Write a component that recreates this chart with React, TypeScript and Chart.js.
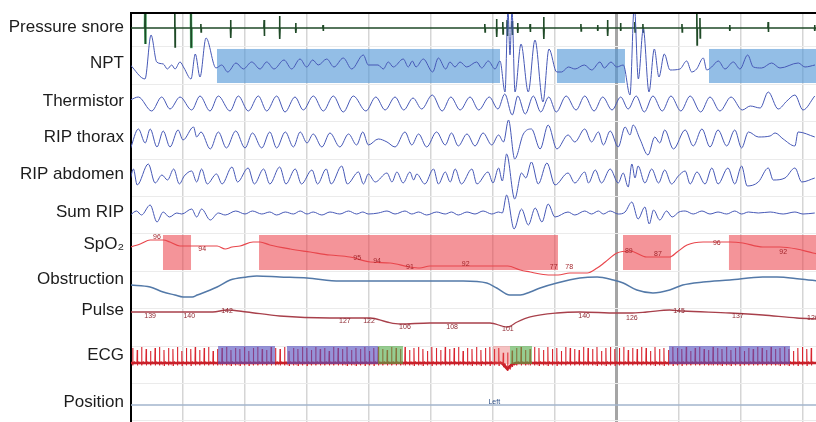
import React, { useEffect, useRef } from "react";
import { Chart, registerables } from "chart.js";

Chart.register(...registerables);

// ---------- time axis (seconds) ----------
const timeMin = 1.61;
const timeMax = 112.1;
const gridTimes = [10, 20, 30, 40, 50, 60, 70, 80, 90, 100, 110];
const markerTime = 80;

// ---------- lanes ----------
const laneLabels = ["Pressure snore", "NPT", "Thermistor", "RIP thorax", "RIP abdomen", "Sum RIP", "SpO\u2082", "Obstruction", "Pulse", "ECG", "Position"];
const laneLabelPos = [0.465, 0.428, 0.444, 0.406, 0.396, 0.412, 0.267, 0.203, 0.032, 0.235, 0.492];
const laneViewTop = 0.091;
const laneViewBottom = 11.027;
const auPerLane = 37.4;

const baseSnore = 0.492, baseNpt = 1.481, baseTherm = 2.471, baseThorax = 3.406, baseAbdomen = 4.449,
  baseSum = 5.439, baseSpo2 = 6.455, baseObstr = 7.471, basePulse = 8.246, baseEcg = 9.449, basePosition = 10.492;

// ---------- Pressure snore spikes ----------
const snoreTimes = [3.9, 8.7, 11.3, 12.9, 17.7, 23.1, 25.6, 28.2, 32.6, 58.7, 60.6, 61.6, 62.3, 63.1, 64.0, 66.0, 68.2, 74.2, 76.9, 78.5, 80.6, 82.9, 84.2, 90.5, 92.9, 93.4, 98.2, 104.4, 111.9];
const snoreUp = [14, 14, 16, 4, 8, 8, 12, 5, 3, 4, 9, 6, 8, 7, 5, 4, 11, 4, 3, 8, 5, 6, 4, 4, 14, 10, 3, 6, 3];
const snoreDown = [16, 19, 19, 4, 10, 8, 11, 5, 3, 4, 9, 6, 8, 7, 5, 4, 11, 3, 3, 8, 3, 4, 4, 4, 17, 10, 3, 4, 3];
const snoreHiTimes = [3.9, 11.3];
const snoreHiUp = [14, 16];
const snoreHiDown = [16, 19];

// ---------- NPT ----------
const nptTimes = [1.5, 3.87, 4.84, 5.76, 6.82, 7.47, 8.18, 8.71, 9.52, 10.16,
  11.29, 11.98, 12.74, 13.71, 15.32, 16.24, 17.21, 18.55, 19.73, 21.08,
  22.42, 23.5, 24.68, 26.29, 27.53, 28.87, 29.95, 30.92, 31.82, 33.18,
  34.35, 35.85, 37.21, 39.08, 39.89, 41.45, 42.31, 43.11, 43.92, 45.53,
  46.34, 46.98, 47.58, 48.76, 50.27, 51.18, 52.37, 53.06, 53.87, 54.68,
  55.76, 57.37, 58.18, 59.24, 60.32, 61.13, 61.94, 62.42, 62.74, 63.06,
  63.55, 64.52, 65.69, 66.77, 68.06, 69.03, 70.27, 71.08, 72.15, 73.23,
  74.73, 75.92, 77.26, 77.95, 79.03, 79.95, 81.02, 82.1, 82.79, 83.44,
  84.24, 85.16, 86.02, 86.77, 87.63, 88.55, 90.16, 91.24, 92.05, 92.85,
  93.92, 94.47, 95.27, 96.34, 97.42, 98.76, 99.84, 101.08, 101.98, 103.34,
  104.95, 106.29, 109.24, 110.32, 111.94];
const nptValues = [0, -14, 30, 3, 1, -4, 0, -4, 3, -3,
  -14, 11, -12, 27, -3, 0, -7, 2, -4, 3,
  -4, 3, -4, 5, -4, 6, -2, 5, 0, 6,
  -2, 7, -4, 10, 0, 0, -4, 3, -2, 6,
  -2, 4, -2, 6, -7, 7, -4, 3, -2, 3,
  -2, 3, -3, 4, -4, 4, -27, 55, 10, 55,
  -27, 21, -27, 25, -37, 16, -7, -7, -2, -4,
  0, -5, 3, -3, 3, -2, 0, -30, 60, -14,
  36, -27, 16, -12, 11, -5, -4, 4, -7, -4,
  7, -5, -2, 4, -4, 3, -4, 10, -2, -3,
  2, -3, 2, -2, 0];
const nptEventStarts = [15.48, 70.32, 94.84];
const nptEventEnds = [61.13, 81.29, 113];

// ---------- Thermistor ----------
const thermSamples: [number, number][] = [[1.5, 2], [2.79, 5], [4.95, -9], [6.56, 5], [7.9, -7], [9.52, 5], [11.4, -8], [12.74, 6], [14.35, -9], [15.69, 6], [17.58, -9], [18.92, 6], [20.53, -9], [22.15, 6], [23.5, -9], [25.11, 6], [26.45, -10], [28.06, 5], [29.4, -8], [31.02, 6], [32.63, -9], [34.24, 6], [35.85, -10], [37.47, 6], [39.5, -9], [41.1, 5], [42.6, -8], [44.2, 5], [45.6, -8], [47.1, 4], [48.5, -7], [50.2, 7], [51.8, -9], [53.2, 5], [54.7, -8], [56.3, 5], [57.7, -8], [59.4, 5], [60.8, -7], [61.9, 8], [63.1, -13], [64.0, 6], [65.2, -12], [66.5, 6], [67.7, -10], [69.0, 5], [70.2, -10], [71.8, 6], [73.4, -8], [74.8, 6], [76.3, -9], [77.7, 5], [79.2, -8], [80.6, 5], [81.8, -7], [83.1, 6], [84.4, -10], [85.8, 6], [87.3, -9], [88.7, 6], [90.3, -9], [91.8, 6], [93.5, -10], [95.0, 5], [96.6, -9], [98.4, 5], [100.2, -8], [101.5, -4], [103.1, -6], [104.4, 10], [106.0, -7], [107.4, 1], [108.7, 7], [110.0, -8], [111.9, 6]];

// ---------- RIP thorax ----------
const thoraxSamples: [number, number][] = [[1.5, -12], [2.8, 8], [3.9, -6], [4.7, 8], [5.8, -10], [6.8, 6], [7.9, -10], [9.2, 7], [10.0, -3], [11.7, 10], [12.2, 0], [12.9, 5], [14.4, -12], [15.7, 5], [17.0, -11], [18.5, 6], [20.0, -11], [21.2, 4], [22.7, -11], [24.0, 5], [25.1, -11], [26.5, 5], [27.8, -10], [28.9, 5], [30.0, -6], [31.0, 3], [32.4, -10], [33.7, 4], [35.3, -10], [36.7, 3], [38.0, -8], [39.0, 5], [39.9, -8], [41.5, -2], [42.9, -5], [44.2, -10], [45.8, 5], [46.9, -8], [48.0, 3], [49.3, -10], [50.9, 5], [52.3, -8], [53.3, 4], [54.4, -9], [55.8, 3], [57.1, -9], [58.4, 4], [59.8, -8], [60.9, 2], [61.7, -5], [62.5, 17], [63.5, -22], [64.9, 3], [66.2, 8], [67.6, -12], [68.9, 12], [70.3, -12], [72.1, 2], [73.2, -5], [74.8, 8], [75.9, -5], [77.0, 5], [77.8, -8], [78.9, 6], [80.2, -10], [81.3, 10], [82.1, 2], [82.6, 12], [83.7, -2], [85.0, -18], [86.1, 0], [86.9, -6], [87.7, 7], [89.1, -12], [91.0, 7], [92.3, -9], [93.7, 8], [95.0, -10], [96.3, 7], [97.7, -9], [99.0, 7], [100.1, -11], [101.2, 5], [102.8, 0], [104.7, 1], [105.5, 4], [106.8, -2], [108.7, -9], [109.2, 5], [111.9, 0]];

// ---------- RIP abdomen ----------
const abdomenSamples: [number, number][] = [[1.5, -3], [2.0, 7], [2.6, -9], [4.4, 12], [5.5, -7], [6.6, 1], [7.5, -4], [8.5, 7], [9.4, -8], [10.2, 0], [11.4, 5], [12.2, -6], [13.0, 7], [13.9, -8], [15.4, 2], [16.3, -8], [17.9, 9], [18.8, -6], [20.5, 8], [21.5, -8], [23.0, 7], [24.0, -8], [25.6, 9], [26.6, -8], [28.1, 7], [29.1, -8], [30.8, 6], [31.7, -8], [33.1, 7], [33.9, -8], [35.6, 10], [36.5, -8], [38.3, 4], [39.1, -8], [39.9, 2], [41.0, -6], [42.9, 3], [43.7, -6], [44.5, 4], [45.5, -7], [46.6, 4], [47.2, -4], [47.7, 2], [49.0, -8], [50.4, 7], [51.2, -8], [52.3, 4], [53.1, -6], [53.9, 7], [54.9, -8], [56.6, 7], [57.4, -8], [59.2, 4], [60.0, -7], [60.9, 8], [61.5, -5], [62.2, 22], [63.5, -23], [64.6, 3], [65.3, -2], [66.2, 14], [67.3, -8], [68.7, 13], [70.0, -9], [72.1, 3], [73.2, -7], [74.8, 4], [75.4, -7], [76.5, 6], [77.5, -7], [78.9, 7], [80.2, -7], [81.0, 3], [81.8, -11], [82.4, 12], [82.9, -2], [83.4, 10], [84.5, -7], [85.6, 7], [86.7, -7], [87.7, 6], [88.8, -8], [89.9, 0], [91.0, 5], [91.8, -8], [92.9, 4], [94.2, -8], [95.3, 8], [96.3, -8], [97.9, 8], [99.0, -8], [100.1, 10], [101.0, -10], [102.8, -6], [104.4, 8], [105.2, -4], [107.1, -2], [108.7, 8], [109.8, -6], [111.9, -2]];

// ---------- Sum RIP ----------
const sumSamples: [number, number][] = [[1.5, -2], [2.5, 2], [3.3, -2], [4.7, 8], [5.8, -9], [6.8, 1], [7.8, -4], [9.0, 0], [9.8, -1], [11.4, 4], [12.2, -4], [13.0, 4], [14.4, -7], [15.7, 0], [16.8, -2], [18.5, 2], [20.0, -1], [21.2, 2], [22.7, -1], [24.0, 1], [25.1, -2], [26.5, 1], [27.8, -1], [28.9, 2], [30.0, -1], [31.0, 1], [32.4, -2], [33.7, 1], [35.3, -1], [36.7, 2], [38.0, -1], [39.0, 1], [39.9, -1], [41.5, 0], [42.9, 2], [44.2, -1], [45.8, 2], [46.9, -1], [48.0, 1], [49.3, -2], [50.9, 1], [52.3, -1], [53.3, 1], [54.4, -2], [55.8, 1], [57.1, -1], [58.4, 2], [59.8, -1], [60.9, 1], [61.5, 0], [62.2, 18], [63.4, -16], [64.6, 4], [65.7, -12], [66.8, 5], [67.9, -9], [68.9, 9], [70.0, -4], [72.1, 1], [73.2, -2], [74.8, 2], [75.9, -1], [77.0, 2], [77.8, -1], [78.9, 2], [80.2, -1], [81.3, 1], [82.4, 11], [83.4, -6], [84.5, 6], [85.2, -11], [85.9, 3], [86.9, -7], [88.0, 2], [88.9, -4], [90.0, 1], [91.0, 2], [92.3, -1], [93.7, 2], [95.0, -1], [96.3, 1], [97.7, -1], [99.0, 2], [100.1, -1], [101.2, 1], [102.8, 0], [104.7, 1], [106.8, -1], [108.7, 1], [110.0, -1], [111.9, 0]];

// ---------- SpO2 ----------
const spo2Samples: [number, number][] = [[1.5, 4], [3.1, 7], [4.7, 11], [6.8, 11], [7.9, 9], [9.5, 5], [12.7, 5], [15.5, 5], [16.8, 2], [17.9, 4], [19.2, 5], [21.3, 9], [22.4, 9], [24.0, 6], [27.3, 2], [30.5, -1], [33.7, -4], [36.9, -6], [40.2, -11], [43.4, -12], [46.6, -16], [48.2, -17], [49.8, -15], [54.7, -15], [61.1, -15], [62.4, -15], [64.4, -19], [66.0, -21], [67.6, -23], [69.2, -24], [70.5, -24], [72.4, -22], [75.2, -22], [76.8, -17], [78.1, -11], [80.0, -2], [82.1, 0], [84.8, -6], [88.5, -6], [89.7, -1], [91.3, 6], [93.9, 9], [98.2, 9], [100.3, 8], [103.5, 4], [106.3, 4], [109.0, 2], [111.6, -2], [112.5, -3]];
const desatStarts = [6.77, 22.26, 80.97, 98.06];
const desatEnds = [11.29, 70.48, 88.71, 113];
const spo2LabelTimes = [5.8, 13.1, 38.1, 41.3, 46.6, 55.6, 69.8, 72.3, 81.9, 86.6, 96.1, 106.8];
const spo2LabelTexts = ["96", "94", "95", "94", "91", "92", "77", "78", "89", "87", "96", "92"];
const spo2LabelLevels = [14, 2, -7, -10, -16, -13, -16, -16, 0, -3, 8, -1];

// ---------- Obstruction ----------
const obstrSamples: [number, number][] = [[1.5, 4], [4.7, 2], [6.8, -3], [8.7, -6], [10.0, -8], [11.5, -8], [12.3, -6], [14.4, -1], [15.5, 2], [17.6, 9], [20.3, 12], [21.9, 13], [25.6, 12], [30.0, 11], [35.3, 8], [40.2, 8], [49.8, 8], [55.2, 8], [59.0, 6], [60.6, 1], [62.7, -6], [64.4, -6], [66.0, -3], [67.6, 1], [70.3, 6], [74.0, 11], [76.8, 12], [79.4, 9], [81.0, 6], [83.2, -1], [85.8, -4], [88.5, -1], [90.6, 4], [93.9, 7], [98.2, 9], [103.5, 12], [105.8, 12], [109.5, 10], [112.5, 8]];

// ---------- Pulse ----------
const pulseSamples: [number, number][] = [[1.5, 6], [14.8, 6], [17.1, 8], [20.3, 6], [25.6, 2], [33.7, 0], [40.2, 0], [42.9, -4], [45.0, -6], [49.8, -5], [59.5, -5], [62.3, -9], [63.9, -4], [66.0, 1], [70.3, 5], [74.0, 6], [80.0, 5], [82.1, 5], [84.8, 6], [88.5, 8], [90.6, 7], [98.2, 5], [103.5, 3], [109.0, 0], [112.5, -1]];
const pulseLabelTimes = [4.7, 11.0, 17.1, 36.1, 40.0, 45.8, 53.4, 62.4, 74.7, 82.4, 90.0, 99.5, 111.6];
const pulseLabelTexts = ["139", "140", "142", "127", "122", "106", "108", "101", "140", "126", "145", "137", "126"];
const pulseLabelLevels = [2, 2, 7, -3, -3, -9, -9, -11, 2, 0, 7, 2, 0];

// ---------- ECG ----------
const ecgFirstBeat = 1.9;
const ecgRR = 0.72;
const ecgAmps = [15, 13, 16, 14, 12, 15, 16, 13, 15, 14,
  16, 12, 15, 14, 16, 13, 15, 16, 12, 14,
  15, 16, 13, 15, 14, 16, 12, 15, 16, 14,
  13, 16, 15, 14, 16, 12, 15, 14, 16, 15,
  13, 16, 14, 15, 12, 16, 15, 14, 16, 13,
  15, 14, 16, 12, 15, 16, 14, 13, 16, 15,
  14, 16, 13, 15, 16, 14, 12, 16, 15, 13,
  16, 14, 15, 16, 12, 15, 14, 16, 13, 15,
  16, 14, 15, 12, 16, 14, 15, 16, 13, 14,
  16, 15, 13, 16, 14, 15, 12, 16, 15, 14,
  13, 16, 15, 14, 16, 12, 15, 16, 14, 15,
  16, 13, 15, 14, 16, 15, 12, 16, 14, 15,
  13, 16, 15, 14, 16, 12, 15, 16, 14, 13,
  16, 15, 14, 16, 13, 15, 16, 12, 15, 14,
  16, 15, 13, 16, 14, 15, 16, 14, 12, 15,
  16, 14, 15];
const ecgDriftTimes = [timeMin - 1, 61.4, 62.3, 62.9, 63.6, timeMax + 1];
const ecgDriftValues = [0, 0, -6, -2, 0, 0];
const ecgEventStarts = [15.65, 26.77, 41.45, 60.0, 62.74, 88.39];
const ecgEventEnds = [24.84, 41.45, 45.48, 62.74, 66.29, 107.9];
const ecgEventKinds = ["purple", "purple", "green", "red", "green", "purple"];

// ---------- Position ----------
const positionLevel = -3;
const positionLabelTime = 60.2;
const positionLabelText = "Left";

// ================= helpers =================
const toPts = (samples: [number, number][], base: number) => samples.map(([t, v]) => ({ x: t, y: base - v / auPerLane }));
const pairs = (ts: number[], vs: number[]) => ts.map((t, i) => [t, vs[i]] as [number, number]);

function spikePts(times: number[], up: number[], down: number[], base: number, withEnds: boolean) {
  const pts: { x: number; y: number }[] = [];
  if (withEnds) pts.push({ x: timeMin - 1, y: base });
  times.forEach((t, i) => {
    if (!withEnds) pts.push({ x: NaN, y: NaN });
    pts.push({ x: t - 0.06, y: base });
    pts.push({ x: t - 0.02, y: base - up[i] / auPerLane });
    pts.push({ x: t + 0.02, y: base + down[i] / auPerLane });
    pts.push({ x: t + 0.06, y: base });
  });
  if (withEnds) pts.push({ x: timeMax + 1, y: base });
  return pts;
}

function driftAt(t: number) {
  for (let i = 1; i < ecgDriftTimes.length; i++) {
    if (t <= ecgDriftTimes[i]) {
      const t0 = ecgDriftTimes[i - 1], t1 = ecgDriftTimes[i];
      const f = (t - t0) / (t1 - t0);
      return ecgDriftValues[i - 1] + f * (ecgDriftValues[i] - ecgDriftValues[i - 1]);
    }
  }
  return 0;
}

function ecgPts() {
  const pts: { x: number; y: number }[] = [{ x: timeMin - 1, y: baseEcg }];
  ecgAmps.forEach((a, i) => {
    const t = ecgFirstBeat + i * ecgRR;
    const b = baseEcg - driftAt(t) / auPerLane;
    pts.push({ x: t - 0.05, y: b });
    pts.push({ x: t - 0.01, y: b - a / auPerLane });
    pts.push({ x: t + 0.03, y: b + 2.5 / auPerLane });
    pts.push({ x: t + 0.07, y: b });
    pts.push({ x: t + 0.25, y: b - 1 / auPerLane });
    pts.push({ x: t + 0.38, y: b + 0.5 / auPerLane });
  });
  pts.push({ x: timeMax + 1, y: baseEcg });
  return pts;
}

function ecgBaselinePts() {
  return ecgDriftTimes.map((t, i) => ({ x: t, y: baseEcg - ecgDriftValues[i] / auPerLane }));
}

const yTicks = (() => {
  const v: number[] = [];
  for (let i = 1; i <= 11; i++) v.push(i);
  laneLabelPos.forEach((p, i) => v.push(i + p));
  return v.sort((a, b) => a - b);
})();

const FONT = "'Liberation Sans', Arial, Helvetica, sans-serif";
const WAVE = "#4658b6";

export default function App() {
  const ref = useRef<HTMLCanvasElement | null>(null);

  useEffect(() => {
    document.body.style.margin = "0";
    const canvas = ref.current;
    if (!canvas) return;

    const boxPlugin = {
      id: "boxes",
      beforeDatasetsDraw(chart: any) {
        const { ctx, scales } = chart;
        const xs = scales.x, ys = scales.y;
        const area = chart.chartArea;
        ctx.save();
        ctx.beginPath();
        ctx.rect(area.left, area.top, area.right - area.left, area.bottom - area.top);
        ctx.clip();
        const rect = (t0: number, t1: number, u0: number, u1: number, c: string) => {
          const x0 = xs.getPixelForValue(t0), x1 = xs.getPixelForValue(t1);
          const y0 = ys.getPixelForValue(u0), y1 = ys.getPixelForValue(u1);
          ctx.fillStyle = c;
          ctx.fillRect(x0, y0, x1 - x0, y1 - y0);
        };
        nptEventStarts.forEach((s, i) => rect(s, nptEventEnds[i], 1.053, 1.963, "rgba(80,150,215,0.62)"));
        desatStarts.forEach((s, i) => rect(s, desatEnds[i], 6.027, 6.963, "rgba(235,60,70,0.55)"));
        ctx.restore();
      },
      afterDatasetsDraw(chart: any) {
        const { ctx, scales } = chart;
        const xs = scales.x, ys = scales.y;
        const area = chart.chartArea;
        ctx.save();
        ctx.beginPath();
        ctx.rect(area.left, area.top, area.right - area.left, area.bottom - area.top);
        ctx.clip();
        const colors: Record<string, string> = {
          purple: "rgba(85,80,190,0.62)",
          green: "rgba(80,170,70,0.6)",
          red: "rgba(230,80,80,0.35)",
        };
        ecgEventStarts.forEach((s, i) => {
          const x0 = xs.getPixelForValue(s), x1 = xs.getPixelForValue(ecgEventEnds[i]);
          const y0 = ys.getPixelForValue(8.995), y1 = ys.getPixelForValue(9.476);
          ctx.fillStyle = colors[ecgEventKinds[i]];
          ctx.fillRect(x0, y0, x1 - x0, y1 - y0);
        });
        // value labels
        ctx.font = `7px ${FONT}`;
        ctx.textAlign = "center";
        ctx.textBaseline = "middle";
        ctx.fillStyle = "#a3262c";
        spo2LabelTimes.forEach((t, i) => {
          ctx.fillText(spo2LabelTexts[i], xs.getPixelForValue(t), ys.getPixelForValue(baseSpo2 - spo2LabelLevels[i] / auPerLane));
        });
        ctx.fillStyle = "#8e2a33";
        pulseLabelTimes.forEach((t, i) => {
          ctx.fillText(pulseLabelTexts[i], xs.getPixelForValue(t), ys.getPixelForValue(basePulse - pulseLabelLevels[i] / auPerLane));
        });
        ctx.fillStyle = "#2d4f86";
        ctx.fillText(positionLabelText, xs.getPixelForValue(positionLabelTime), ys.getPixelForValue(basePosition));
        ctx.restore();
      },
      afterDraw(chart: any) {
        const { ctx } = chart;
        const a = chart.chartArea;
        ctx.save();
        ctx.fillStyle = "#000";
        ctx.fillRect(a.left - 1, a.top - 1, a.right - a.left + 1, 2);
        ctx.restore();
      },
    };

    const line = (data: any[], color: string, width = 1, extra: any = {}) => ({
      data,
      borderColor: color,
      borderWidth: width,
      pointRadius: 0,
      fill: false,
      cubicInterpolationMode: "monotone",
      ...extra,
    });
    const straight = { cubicInterpolationMode: "default", tension: 0 };

    const chart = new Chart(canvas, {
      type: "line",
      data: {
        datasets: [
          line([{ x: timeMin - 1, y: basePosition - positionLevel / auPerLane }, { x: timeMax + 1, y: basePosition - positionLevel / auPerLane }], "#a2b4cd", 1.5),
          line(toPts(obstrSamples, baseObstr), "#5379a8", 1.5),
          line(toPts(pulseSamples, basePulse), "#a8404b", 1.3),
          line(toPts(spo2Samples, baseSpo2), "#e8464c", 1.2),
          line(toPts(sumSamples, baseSum), WAVE, 1),
          line(toPts(abdomenSamples, baseAbdomen), WAVE, 1),
          line(toPts(thoraxSamples, baseThorax), WAVE, 1),
          line(toPts(thermSamples, baseTherm), WAVE, 1),
          line(toPts(pairs(nptTimes, nptValues), baseNpt), WAVE, 1),
          line(spikePts(snoreTimes, snoreUp, snoreDown, baseSnore, true), "#1f4a27", 1.6, straight),
          line(spikePts(snoreHiTimes, snoreHiUp, snoreHiDown, baseSnore, false), "rgba(70,190,110,0.85)", 2.5, { ...straight, spanGaps: false }),
          line(ecgBaselinePts(), "#c8202a", 2.6, straight),
          line(ecgPts(), "#d9242e", 1.1, straight),
        ],
      },
      options: {
        animation: false,
        responsive: false,
        devicePixelRatio: 1,
        events: [],
        parsing: false as any,
        normalized: true,
        layout: { padding: { top: 13, left: 0, right: 0, bottom: 0 } },
        plugins: { legend: { display: false }, tooltip: { enabled: false } },
        scales: {
          x: {
            type: "linear",
            min: timeMin,
            max: timeMax,
            position: "bottom",
            afterBuildTicks: (s: any) => {
              s.ticks = gridTimes.map((v) => ({ value: v }));
            },
            afterFit: (s: any) => {
              s.height = 0;
              s.paddingLeft = 0;
              s.paddingRight = 0;
            },
            ticks: { display: false },
            grid: {
              drawTicks: false,
              color: (c: any) => (c.tick && c.tick.value === markerTime ? "#a5a5a5" : "#d5d5d5"),
              lineWidth: (c: any) => (c.tick && c.tick.value === markerTime ? 3 : 1.5),
            },
            border: { display: false },
          },
          y: {
            type: "linear",
            reverse: true,
            min: laneViewTop,
            max: laneViewBottom,
            afterBuildTicks: (s: any) => {
              s.ticks = yTicks.map((v) => ({ value: v }));
            },
            afterFit: (s: any) => {
              s.width = 131;
              s.paddingTop = 0;
              s.paddingBottom = 0;
            },
            ticks: {
              autoSkip: false,
              padding: 7,
              color: "#1c1c1c",
              font: { family: FONT, size: 17 },
              callback: (_v: any, i: number, ticks: any[]) => {
                const val = ticks[i].value;
                const idx = laneLabelPos.findIndex((p, k) => Math.abs(k + p - val) < 1e-6);
                return idx >= 0 ? laneLabels[idx] : "";
              },
            },
            grid: {
              drawTicks: false,
              color: (c: any) => {
                const v = c.tick ? c.tick.value : 0;
                return Math.abs(v - Math.round(v)) < 1e-9 ? "#ebebeb" : "rgba(0,0,0,0)";
              },
              lineWidth: 1,
            },
            border: { display: true, color: "#000", width: 2 },
          },
        },
      } as any,
      plugins: [boxPlugin],
    });

    return () => chart.destroy();
  }, []);

  return (
    <div style={{ width: 816, height: 422 }}>
      <canvas ref={ref} width={816} height={422} style={{ display: "block", width: 816, height: 422 }} />
    </div>
  );
}
